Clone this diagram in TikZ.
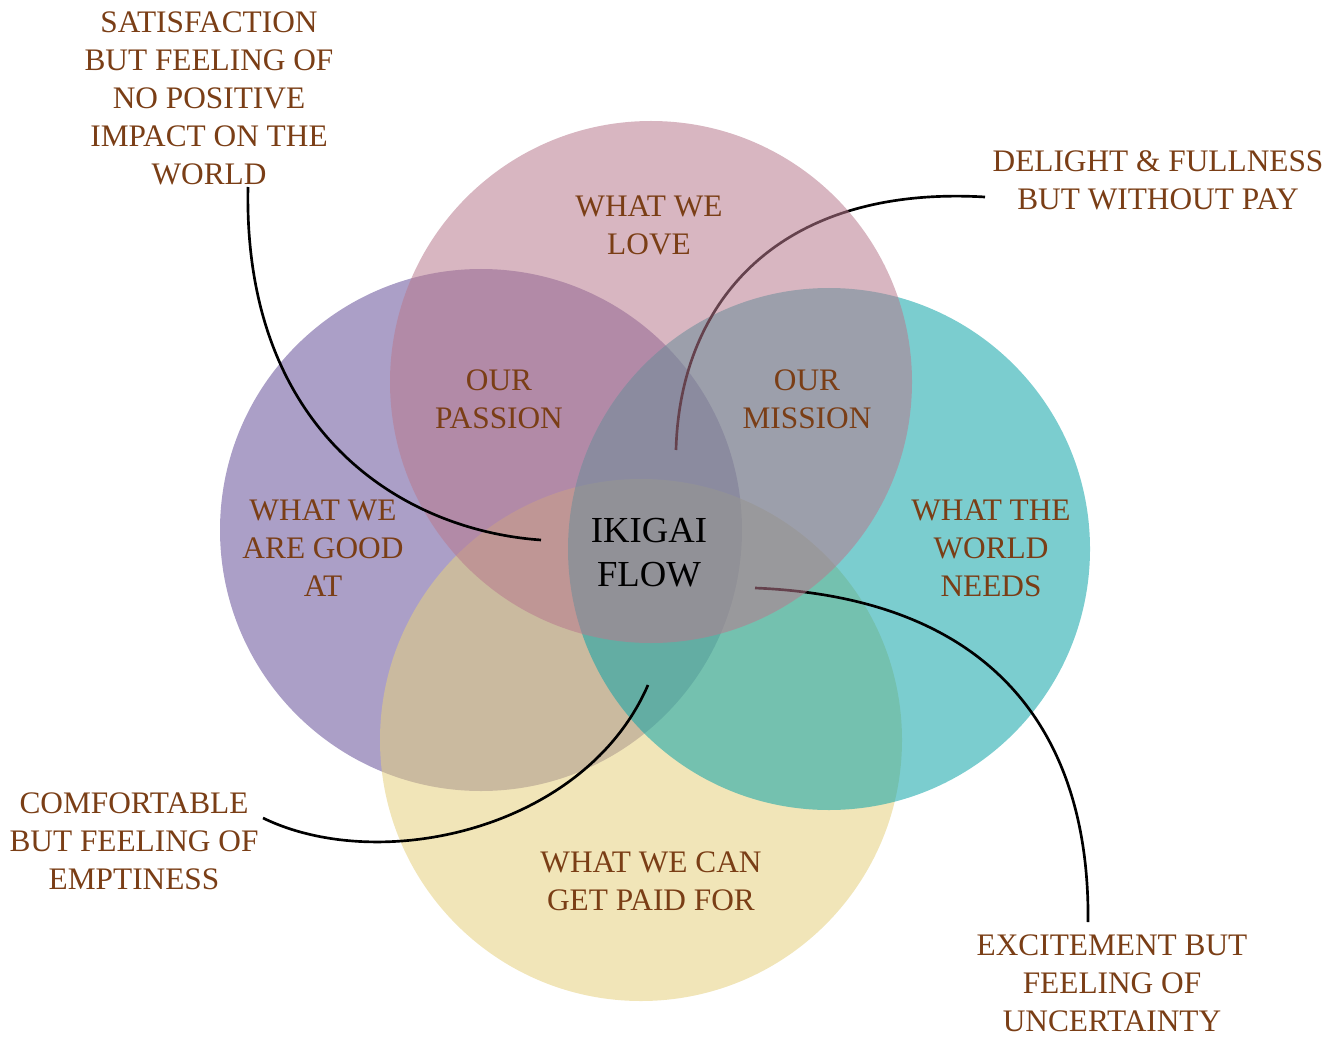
\documentclass[tikz,border=0pt]{standalone}
\usepackage{fontspec}
\setmainfont{Liberation Serif}
\definecolor{lovepink}{RGB}{184,122,142}
\definecolor{goodpurple}{RGB}{102,80,153}
\definecolor{needteal}{RGB}{15,164,168}
\definecolor{paidyellow}{RGB}{229,208,126}
\definecolor{textbrown}{RGB}{122,62,22}

\begin{document}
\begin{tikzpicture}[x=0.75pt,y=-0.75pt,
  set circle/.style={fill opacity=0.55},
  brown text/.style={text=textbrown,align=center,inner sep=0pt,
    font=\fontsize{23.5}{28.5}\selectfont},
  flow text/.style={text=black,align=center,inner sep=0pt,
    font=\fontsize{27.5}{33}\selectfont},
  link/.style={draw=black,line width=2pt}]

  \useasboundingbox (0,0) rectangle (1341,1037);

  % the four sets
  \fill[goodpurple,set circle] (481,530) circle[radius=195.75pt];
  \fill[paidyellow,set circle] (641,740) circle[radius=195.75pt];
  \fill[needteal,set circle] (829,549) circle[radius=195.75pt];

  \coordinate (d1) at (985,197);
  \coordinate (d2) at (676,450);
  \coordinate (e1) at (755,588);
  \coordinate (e2) at (1088,922);
  \draw[link] (d1) .. controls (780,185) and (680,300) .. (d2);
  \draw[link] (e1) .. controls (1000,598) and (1090,740) .. (e2);

  \fill[lovepink,set circle] (651,382) circle[radius=195.75pt];

  \coordinate (s1) at (248,187);
  \coordinate (s2) at (541,540);
  \coordinate (c1) at (263,818);
  \coordinate (c2) at (648,685);
  \draw[link] (s1) .. controls (243,430) and (400,530) .. (s2);
  \draw[link] (c1) .. controls (380,875) and (585,830) .. (c2);

  % labels
  \node[brown text] (love) at (649,225) {WHAT WE\\LOVE};
  \node[brown text] (passion) at (499,399) {OUR\\PASSION};
  \node[brown text] (mission) at (807,399) {OUR\\MISSION};
  \node[brown text] (good) at (323,548) {WHAT WE\\ARE GOOD\\AT};
  \node[brown text] (needs) at (991,548) {WHAT THE\\WORLD\\NEEDS};
  \node[brown text] (paid) at (651,881) {WHAT WE CAN\\GET PAID FOR};
  \node[flow text] (flow) at (649,553) {IKIGAI\\FLOW};

  \node[brown text] (satisfaction) at (209,98)
    {SATISFACTION\\BUT FEELING OF\\NO POSITIVE\\IMPACT ON THE\\WORLD};
  \node[brown text] (delight) at (1158,180) {DELIGHT \& FULLNESS\\BUT WITHOUT PAY};
  \node[brown text] (comfortable) at (134,841) {COMFORTABLE\\BUT FEELING OF\\EMPTINESS};
  \node[brown text] (excitement) at (1112,983) {EXCITEMENT BUT\\FEELING OF\\UNCERTAINTY};
\end{tikzpicture}
\end{document}
